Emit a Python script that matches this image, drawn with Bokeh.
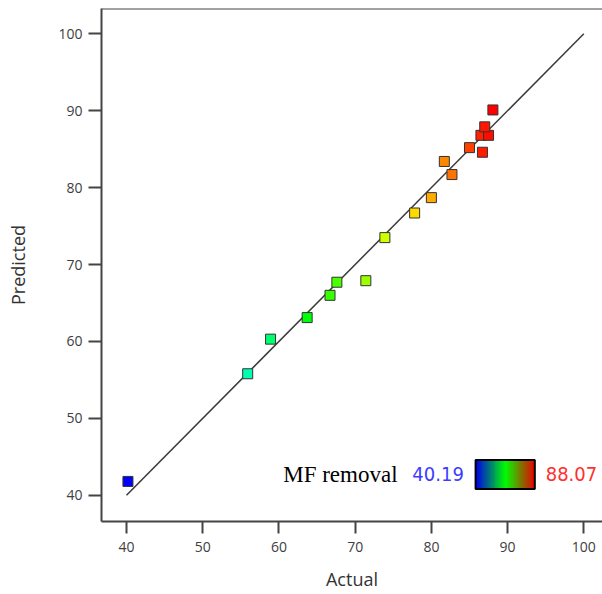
import colorsys
import numpy as np
from bokeh.plotting import figure
from bokeh.models import FixedTicker, Span, Range1d, ColumnDataSource
from bokeh.core.properties import value
from bokeh.embed import file_html
from bokeh.resources import INLINE

# ---- data ----
actual = [40.19, 55.9, 58.9, 63.7, 66.7, 67.6, 71.4, 73.9, 77.8, 80.0,
          81.7, 82.7, 85.0, 86.5, 86.7, 87.5, 87.0, 88.07]
predicted = [41.8, 55.8, 60.3, 63.1, 66.0, 67.7, 67.9, 73.5, 76.7, 78.7,
             83.4, 81.7, 85.2, 86.8, 84.6, 86.8, 87.9, 90.1]
ticks = [40, 50, 60, 70, 80, 90, 100]
fit_line = [40, 100]
legend_title = "MF removal"
color_min, color_max = 40.19, 88.07
x_label = "Actual"
y_label = "Predicted"

# ---- colours (HSV hue from blue to red by actual value) ----
def hue_color(v):
    t = (v - color_min) / (color_max - color_min)
    t = min(max(t, 0.0), 1.0)
    r, g, b = colorsys.hsv_to_rgb((2.0 / 3.0) * (1 - t), 1.0, 1.0)
    return "#%02x%02x%02x" % (int(r * 255), int(g * 255), int(b * 255))

colors = [hue_color(v) for v in actual]
src = ColumnDataSource(dict(x=actual, y=predicted, c=colors))

p = figure(width=602, height=594, output_backend="svg", toolbar_location=None,
           x_range=Range1d(36.72, 102.45), y_range=Range1d(36.59, 103.29),
           min_border_left=101, min_border_right=0, min_border_top=8,
           min_border_bottom=73)
p.outline_line_color = None
p.background_fill_color = "white"
p.border_fill_color = "white"
p.xgrid.visible = False
p.ygrid.visible = False

axis_col = "#444444"
for ax in (p.xaxis[0], p.yaxis[0]):
    ax.ticker = FixedTicker(ticks=ticks)
    ax.minor_tick_line_color = None
    ax.axis_line_color = axis_col
    ax.axis_line_width = 2
    ax.major_tick_line_color = axis_col
    ax.major_tick_line_width = 2
    ax.major_tick_in = 0
    ax.major_label_text_font = "Open Sans"
    ax.major_label_text_font_size = "14px"
    ax.major_label_text_color = "#404040"
    ax.axis_label_text_font = "Open Sans"
    ax.axis_label_text_font_size = "18px"
    ax.axis_label_text_font_style = "normal"
    ax.axis_label_text_color = "#333333"

p.xaxis.axis_label = x_label
p.yaxis.axis_label = y_label
p.xaxis.major_tick_out = 12
p.yaxis.major_tick_out = 13
p.xaxis.major_label_standoff = 8
p.yaxis.major_label_standoff = 6
p.xaxis.axis_label_standoff = 12
p.yaxis.axis_label_standoff = 25

p.add_layout(Span(location=103.29, dimension="width", line_color=axis_col, line_width=2))

p.line(fit_line, fit_line, line_color="#3a3a3a", line_width=1.5)
p.scatter("x", "y", source=src, marker="square", size=10, fill_color="c",
          line_color="#333333", line_width=1)

# ---- colour legend ----
N = 64
img = np.empty((1, N), dtype=np.uint32)
view = img.view(dtype=np.uint8).reshape((1, N, 4))
for i in range(N):
    s = i / (N - 1)
    if s < 0.5:
        r, g, b = 0.0, s * 2, 1 - s * 2
    else:
        r, g, b = (s - 0.5) * 2, 1 - (s - 0.5) * 2, 0.0
    view[0, i] = [int(r * 235), int(g * 255), int(b * 235), 255]
lx0, lx1, ly0, ly1 = 85.8, 93.57, 40.81, 44.58
p.image_rgba(image=[img], x=lx0, y=ly0, dw=lx1 - lx0, dh=ly1 - ly0)
p.quad(left=[lx0], right=[lx1], bottom=[ly0], top=[ly1], fill_color=None,
       line_color="black", line_width=2)

narrow = "'Liberation Sans Narrow', 'DejaVu Sans Condensed', 'Roboto Condensed', 'Arial Narrow', Roboto, sans-serif"
p.text(x=[60.56], y=[42.73], text=[legend_title], text_font=value("Liberation Serif"),
       text_font_size="23px", text_baseline="middle", text_align="left", text_color="black")
p.text(x=[84.26], y=[42.73], text=["%.2f" % color_min], text_font=value(narrow),
       text_font_size="20px", text_baseline="middle", text_align="right", text_color="#3c3cff")
p.text(x=[95.0], y=[42.73], text=["%.2f" % color_max], text_font=value(narrow),
       text_font_size="20px", text_baseline="middle", text_align="left", text_color="#ff3030")

open("out.html", "w").write(file_html(p, INLINE))
